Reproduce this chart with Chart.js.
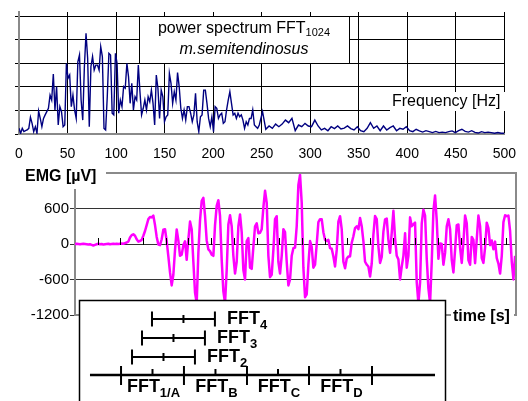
<!DOCTYPE html>
<html><head><meta charset="utf-8">
<script src="https://cdn.jsdelivr.net/npm/chart.js@4/dist/chart.umd.min.js"></script>
<style>
html,body{margin:0;padding:0;background:#fff;}
#wrap{position:relative;width:528px;height:401px;overflow:hidden;background:#fff;}
canvas{position:absolute;left:0;}
#c1{top:0;} #c2{top:160px;}
</style></head><body>
<div id="wrap"><canvas id="c1" width="528" height="165"></canvas><canvas id="c2" width="528" height="241"></canvas></div>
<script>
// ---------- DATA ----------
// power spectrum (arbitrary units), 0 - 247.5 Hz
const specStepLowHz = 1.684;
const powerLow = [0.24,0.03,0.24,0.10,0.14,0.17,0.24,0.71,0.45,0.10,0.31,0.03,0.97,0.66,0.31,0.66,0.81,0.95,1.09,1.65,
1.44,2.54,1.02,2.01,0.38,1.16,0.95,0.31,0.38,2.99,2.36,2.50,1.16,1.65,1.02,0.66,3.06,3.35,1.44,0.59,
2.85,4.27,3.21,0.31,2.85,3.28,2.71,2.92,2.92,2.71,3.70,3.28,0.24,0.17,1.58,3.42,3.35,0.88,0.81,3.42,
2.99,0.88,1.44,1.16,2.01,1.94,2.99,2.43,1.30,2.15,1.02,1.58,1.44,2.92,1.79,0.81,1.09,1.44,1.02,1.58,
1.37,1.86,1.30,0.38,2.50,1.94,0.66,1.86,1.58,0.52,0.73,0.81,2.57,2.15,1.30,1.79,1.44,2.60,2.01,1.09,
0.66,1.02,0.59,1.16,1.16,0.88,0.52,0.81,1.72,0.52,0.10,0.73,0.81,1.86,1.86,1.30,0.66,0.31,0.73,0.10,
1.16,1.09,0.66,0.81,0.88,0.45,0.52,1.02,1.44,1.79,1.30,0.81,0.88,0.66,0.88,0.73,0.81,0.59,0.24,0.52,
0.38,0.66,0.66,1.02,0.38,0.31,0.24,0.38];
// power spectrum, 250.9 - 500 Hz
const specStartHighHz = 250.9;
const specStepHighHz = 3.367;
const powerHigh = [0.95,0.20,0.34,0.24,0.42,0.31,0.42,0.59,0.48,0.66,0.14,0.38,0.31,0.45,0.34,0.31,0.59,0.34,0.17,0.24,
0.14,0.31,0.23,0.34,0.21,0.25,0.34,0.23,0.17,0.31,0.14,0.10,0.24,0.48,0.24,0.34,0.14,0.34,0.17,0.27,
0.34,0.14,0.24,0.20,0.31,0.14,0.10,0.20,0.13,0.08,0.14,0.10,0.06,0.11,0.06,0.08,0.06,0.10,0.13,0.06,
0.14,0.20,0.11,0.08,0.14,0.07,0.04,0.10,0.06,0.08,0.06,0.03,0.06,0.03,0.03];
const freqTicks = [0,50,100,150,200,250,300,350,400,450,500];
const powerGrid = [0,1,2,3,4,5];

// EMG signal [µV], sampled every emgDt seconds
const emgDt = 0.01836;
const emgTimeMax = 4.857;
const emgTickStep = 0.25;
const emgUV = [0,5,0,-5,0,5,0,-5,-10,-5,-15,-25,-15,-5,5,-5,0,-10,-5,0,5,-5,0,5,0,5,0,5,10,5,15,25,
40,110,150,165,140,80,40,50,70,140,220,320,420,455,450,480,320,120,-10,-20,80,240,250,50,-210,-480,-700,-520,
-100,245,60,-200,-180,-20,46,-268,80,380,250,-300,-820,-1000,-150,400,731,780,480,60,-90,-120,-180,-200,320,645,
740,474,-268,-800,-1000,-440,330,485,300,-200,-500,-300,300,500,200,-440,-600,50,100,-400,-420,-50,300,350,
180,190,250,617,900,700,-200,-560,-520,-100,420,470,-300,-500,-200,250,200,-300,-700,-600,-200,-70,-60,300,
1000,1170,700,-400,-900,-850,-350,50,-50,-400,-350,0,370,420,420,200,70,50,70,-70,-80,-210,-380,-100,380,470,
250,-300,-410,-250,-210,-210,20,130,270,300,250,440,300,50,-300,-350,-380,-550,-330,160,474,420,-40,-320,
-220,210,417,430,70,-150,190,560,100,-200,-260,-600,-380,-200,180,-400,-200,450,300,330,360,-650,-1000,-650,
350,580,480,-250,-750,-1000,-300,560,820,400,-250,10,0,-350,-150,300,417,250,-270,-480,-100,320,330,-60,
-320,30,480,350,-270,-350,120,70,-325,80,480,300,-240,-320,-60,360,270,-20,60,-90,40,-240,-330,-500,
-200,370,485,470,480,220,-300,-600,-200];
const emgTicks = [-1200,-600,0,600];

// FFT windows on the time axis [s]
const fftBoundaries = [0.507,1.200,1.894,2.577,3.271];
const fftMainSubs = ['1/A','B','C','D'];
const fftTimelineRange = [0.165,3.965];
const fftOverlapStarts = [0.628,0.738,0.848];
const fftOverlapSubs = ['2','3','4'];
const fftWindow = 0.693;

// ---------- CHARTS ----------
const F = 'Arial, "Liberation Sans", Helvetica, sans-serif';
Chart.defaults.font.family = F;
Chart.defaults.color = '#000';

const specPoints = powerLow.map((v,i)=>({x:i*specStepLowHz,y:v}))
  .concat(powerHigh.map((v,i)=>({x:specStartHighHz+i*specStepHighHz,y:v})));

function subText(ctx, main, sub, x, y, mainFont, subFont, subDy, align){
  ctx.font = mainFont; const w1 = ctx.measureText(main).width;
  ctx.font = subFont; const w2 = ctx.measureText(sub).width;
  let x0 = x;
  if (align === 'center') x0 = x - (w1+w2)/2;
  ctx.textAlign = 'left';
  ctx.font = mainFont; ctx.fillText(main, x0, y);
  ctx.font = subFont; ctx.fillText(sub, x0+w1, y+subDy);
}

const topDecor = {
  id:'topDecor',
  afterDraw(chart){
    const ctx = chart.ctx;
    ctx.save();
    ctx.fillStyle = '#fff'; ctx.fillRect(139,16,210,47);
    ctx.strokeStyle = '#000'; ctx.lineWidth = 1; ctx.strokeRect(139.5,16.5,210,47);
    ctx.fillStyle = '#000'; ctx.textBaseline = 'alphabetic';
    subText(ctx,'power spectrum FFT','1024',244,33,'16px '+F,'11px '+F,3,'center');
    ctx.font = 'italic 16px '+F; ctx.textAlign = 'center';
    ctx.fillText('m.semitendinosus',244,54);
    ctx.fillStyle = '#fff'; ctx.fillRect(390,92,122,19);
    ctx.fillStyle = '#000'; ctx.textAlign = 'left'; ctx.font = '16px '+F;
    ctx.fillText('Frequency [Hz]',392,106);
    ctx.restore();
  }
};

new Chart(document.getElementById('c1'), {
  type:'line',
  data:{datasets:[{data:specPoints,borderColor:'#000080',borderWidth:1.4,pointRadius:0,tension:0,fill:false}]},
  options:{
    responsive:false, animation:false,
    layout:{padding:{top:12,left:15,right:14,bottom:0}},
    plugins:{legend:{display:false},tooltip:{enabled:false}},
    scales:{
      x:{type:'linear',min:0,max:500,
        afterBuildTicks:s=>{s.ticks=freqTicks.map(v=>({value:v}));},
        ticks:{font:{size:14},color:'#000',padding:12,maxRotation:0,autoSkip:false},
        grid:{color:'#000',lineWidth:1,drawTicks:false},
        border:{color:'#8a8a8a',width:2},
        afterFit:s=>{s.height=31;}},
      y:{type:'linear',min:0,max:5.17,
        afterBuildTicks:s=>{s.ticks=powerGrid.map(v=>({value:v}));},
        ticks:{display:false},
        grid:{color:'#000',lineWidth:1,tickLength:4},
        border:{color:'#8a8a8a',width:2},
        afterFit:s=>{s.width=4;}}
    }
  },
  plugins:[topDecor]
});

const emgPoints = emgUV.map((v,i)=>({x:i*emgDt,y:v}));

const emgDecor = {
  id:'emgDecor',
  afterDraw(chart){
    const ctx = chart.ctx, xs = chart.scales.x, ys = chart.scales.y, a = chart.chartArea;
    ctx.save();
    // plot frame top/right
    ctx.strokeStyle = '#8a8a8a'; ctx.lineWidth = 2;
    ctx.beginPath(); ctx.moveTo(a.left,a.top); ctx.lineTo(a.right,a.top); ctx.lineTo(a.right,a.bottom); ctx.stroke();
    // ticks on zero line
    const y0 = Math.round(ys.getPixelForValue(0));
    ctx.strokeStyle = '#000'; ctx.lineWidth = 1;
    for (let t = emgTickStep; t < emgTimeMax; t += emgTickStep){
      const x = Math.round(xs.getPixelForValue(t))+0.5;
      ctx.beginPath(); ctx.moveTo(x,y0-6); ctx.lineTo(x,y0+1); ctx.stroke();
    }
    // EMG label
    ctx.fillStyle = '#fff'; ctx.fillRect(18,4,88,25);
    ctx.fillStyle = '#000'; ctx.font = 'bold 16px '+F; ctx.textAlign='left'; ctx.textBaseline='alphabetic';
    ctx.fillText('EMG [µV]',25,21);
    // time label
    ctx.fillStyle = '#fff'; ctx.fillRect(451,146,63,20);
    ctx.fillStyle = '#000'; ctx.fillText('time [s]',453,161);
    // FFT diagram box
    ctx.fillStyle = '#fff'; ctx.fillRect(79,140,367,110);
    ctx.strokeStyle = '#000'; ctx.lineWidth = 1.5; ctx.strokeRect(79.5,140.5,366,120);
    ctx.lineWidth = 2.5; ctx.lineCap = 'butt';
    const px = v => xs.getPixelForValue(v);
    const yT = 215;
    ctx.beginPath(); ctx.moveTo(px(fftTimelineRange[0]),yT); ctx.lineTo(px(fftTimelineRange[1]),yT); ctx.stroke();
    ctx.lineWidth = 2;
    fftBoundaries.forEach(b=>{ctx.beginPath(); ctx.moveTo(px(b),206); ctx.lineTo(px(b),225); ctx.stroke();});
    ctx.fillStyle = '#000';
    for (let i=0;i<fftBoundaries.length-1;i++){
      const m = (fftBoundaries[i]+fftBoundaries[i+1])/2;
      ctx.beginPath(); ctx.moveTo(px(m),209); ctx.lineTo(px(m),215); ctx.stroke();
      subText(ctx,'FFT',fftMainSubs[i],px(m)+1,232,'bold 18px '+F,'bold 13px '+F,5,'center');
    }
    const rowY = [197,178,159];
    fftOverlapStarts.forEach((s,k)=>{
      const y = rowY[k], x1 = px(s), x2 = px(s+fftWindow), xm = px(s+fftWindow/2);
      ctx.beginPath(); ctx.moveTo(x1,y); ctx.lineTo(x2,y);
      ctx.moveTo(x1,y-7.5); ctx.lineTo(x1,y+7.5);
      ctx.moveTo(x2,y-7.5); ctx.lineTo(x2,y+7.5);
      ctx.moveTo(xm,y-4); ctx.lineTo(xm,y+4); ctx.stroke();
      subText(ctx,'FFT',fftOverlapSubs[k],x2+12,y+5,'bold 18px '+F,'bold 13px '+F,5,'left');
    });
    ctx.restore();
  }
};

new Chart(document.getElementById('c2'), {
  type:'line',
  data:{datasets:[{data:emgPoints,borderColor:'#ff00ff',borderWidth:2.5,pointRadius:0,tension:0,fill:false,borderJoinStyle:'round'}]},
  options:{
    responsive:false, animation:false,
    layout:{padding:{top:13,left:0,right:12,bottom:86}},
    plugins:{legend:{display:false},tooltip:{enabled:false}},
    scales:{
      x:{type:'linear',min:0,max:emgTimeMax,
        ticks:{display:false},grid:{display:false},
        border:{color:'#8a8a8a',width:2},
        afterFit:s=>{s.height=0;}},
      y:{type:'linear',min:-1200,max:1200,
        afterBuildTicks:s=>{s.ticks=emgTicks.map(v=>({value:v}));},
        ticks:{font:{size:15},color:'#000',padding:1,callback:v=>String(v)},
        grid:{color:'#333',lineWidth:1,tickLength:5},
        border:{color:'#8a8a8a',width:2},
        afterFit:s=>{s.width=75;}}
    }
  },
  plugins:[emgDecor]
});
</script>
</body></html>
